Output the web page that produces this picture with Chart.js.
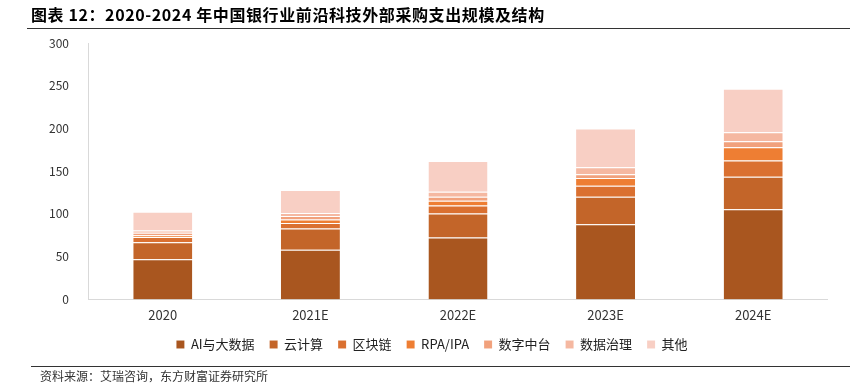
<!DOCTYPE html>
<html>
<head>
<meta charset="utf-8">
<script src="https://cdn.jsdelivr.net/npm/chart.js@4.4.1/dist/chart.umd.min.js"></script>
<style>
  body { margin: 0; background: #fff; font-family: "Noto Sans CJK SC", sans-serif; }
  #wrap { position: relative; width: 850px; height: 390px; overflow: hidden; }
  #title { position: absolute; left: 31px; top: 2px; font-size: 16px; letter-spacing: 0.6px; font-weight: bold; color: #000; white-space: nowrap; }
  #topline { position: absolute; left: 27px; right: 0; top: 28px; height: 1px; background: #333; }
  #bottomline { position: absolute; left: 31px; right: 0; top: 366px; height: 1px; background: #333; }
  #source { position: absolute; left: 40px; top: 367px; font-size: 12px; color: #333; white-space: nowrap; }
  #c { position: absolute; left: 0; top: 0; }
</style>
</head>
<body>
<div id="wrap">
  <canvas id="c" width="850" height="390"></canvas>
  <div id="title">图表 12：2020-2024 年中国银行业前沿科技外部采购支出规模及结构</div>
  <div id="topline"></div>
  <div id="bottomline"></div>
  <div id="source">资料来源：艾瑞咨询，东方财富证券研究所</div>
</div>
<script>
// 年份
const years = ['2020', '2021E', '2022E', '2023E', '2024E'];

// 各技术支出（亿元，读图估计）
const aiBigData = [47, 58, 72.5, 88, 105.5];
const cloud = [20, 25, 28, 32, 38];
const blockchain = [6, 6.5, 9.5, 13, 19];
const rpa = [2, 4, 5.5, 9, 15.5];
const digitalPlatform = [3, 4, 4.5, 4.5, 7];
const dataGovernance = [2.5, 3.5, 6, 8, 10.5];
const others = [22, 27, 36, 45.5, 51];

const yTicks = [0, 50, 100, 150, 200, 250, 300];

const series = [
    { label: 'AI与大数据', data: aiBigData, color: '#A9561F' },
    { label: '云计算', data: cloud, color: '#C36529' },
    { label: '区块链', data: blockchain, color: '#DA7030' },
    { label: 'RPA/IPA', data: rpa, color: '#EE7E33' },
    { label: '数字中台', data: digitalPlatform, color: '#F1A17C' },
    { label: '数据治理', data: dataGovernance, color: '#F5B8A1' },
    { label: '其他', data: others, color: '#F8CFC4' }
];

const ctx = document.getElementById('c').getContext('2d');
const chart = new Chart(ctx, {
    type: 'bar',
    data: {
        labels: years,
        datasets: series.map(s => ({
            label: s.label,
            data: s.data,
            backgroundColor: s.color,
            borderColor: 'rgba(255,255,255,0.25)',
            borderWidth: { top: 1, bottom: 0, left: 0, right: 0 },
            barPercentage: 0.4,
            categoryPercentage: 1
        }))
    },
    options: {
        responsive: false,
        animation: false,
        layout: { padding: { top: 43, left: 37, right: 23, bottom: 29 } },
        plugins: {
            tooltip: { enabled: false },
            legend: {
                position: 'bottom',
                labels: {
                    boxWidth: 8,
                    boxHeight: 8,
                    padding: 15,
                    color: '#222',
                    font: { size: 13, family: '"Noto Sans CJK SC", sans-serif' }
                }
            }
        },
        scales: {
            x: {
                stacked: true,
                grid: { display: false },
                border: { color: '#d9d9d9' },
                ticks: { color: '#333', font: { size: 13, family: '"Noto Sans CJK SC", sans-serif' }, padding: 0 }
            },
            y: {
                stacked: true,
                min: 0,
                max: 300,
                afterBuildTicks: axis => { axis.ticks = yTicks.map(v => ({ value: v })); },
                grid: { display: false },
                border: { color: '#d9d9d9' },
                ticks: { color: '#333', font: { size: 12, family: '"Noto Sans CJK SC", sans-serif' }, padding: 12 }
            }
        }
    }
});
</script>
</body>
</html>
